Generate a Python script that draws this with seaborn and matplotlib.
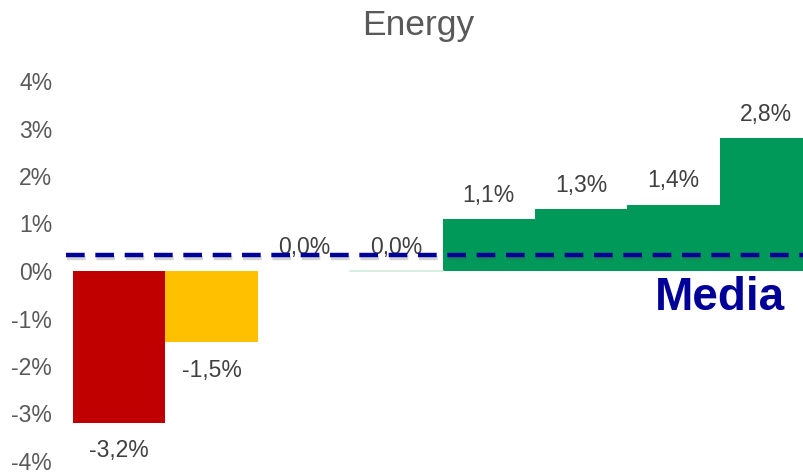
import numpy as np
import pandas as pd
import seaborn as sns
import matplotlib.pyplot as plt
import matplotlib.patheffects as pe

# data
categories = ["A", "B", "C", "D", "E", "F", "G", "H"]
values = [-3.2, -1.5, 0.0, 0.0, 1.1, 1.3, 1.4, 2.8]
bar_colors = ["#C00000", "#FFC000", "#FFFFFF", "#CFEADC",
              "#00995A", "#00995A", "#00995A", "#00995A"]
media = 0.34
y_ticks = [-4, -3, -2, -1, 0, 1, 2, 3, 4]

df = pd.DataFrame({"cat": categories, "val": values})

sns.set_theme(style="white")
plt.rcParams['font.family'] = ['Liberation Sans', 'DejaVu Sans']

fig = plt.figure(figsize=(8.04, 4.72), dpi=100)
# plot area runs past the right edge of the picture, last bar is cut
ax = fig.add_axes([73 / 804, 11 / 472, 731 / 804, 380 / 472])

sns.barplot(data=df, x="cat", y="val", hue="cat", palette=bar_colors,
            width=1.0, legend=False, saturation=1, ax=ax, linewidth=0)

# the second zero bar shows as a thin pale line
ax.plot([2.5, 3.5], [0, 0], color="#CFEADC", lw=1.2, zorder=3)

ax.set_xlim(-0.5, -0.5 + 731 / 92.4)
ax.set_ylim(-4, 4)
ax.set_yticks(y_ticks)
ax.set_yticklabels([f"{t}%" for t in y_ticks], fontsize=16.5, color="#595959")
ax.tick_params(axis="y", length=0, pad=15)
ax.set_xticks([])
ax.set_xlabel("")
ax.set_ylabel("")
sns.despine(ax=ax, left=True, bottom=True, top=True, right=True)

# value labels
for i, v in enumerate(values):
    txt = f"{v:.1f}%".replace(".", ",")
    off = 17 if v >= 0 else -20
    ax.annotate(txt, (i, v), xytext=(0, off), textcoords="offset points",
                ha="center", va="center", fontsize=16.5, color="#404040",
                zorder=5)

# average line with shadow
ax.plot([-0.58, 8], [media, media], color="#000099", lw=3.2,
        linestyle=(0, (4.2, 2.4)), zorder=6, clip_on=False,
        path_effects=[pe.SimpleLineShadow(offset=(1, -2.5), alpha=0.25,
                                          shadow_color="#555555"),
                      pe.Normal()])

fig.text(785 / 804, 1 - 310 / 472, "Media", ha="right", va="baseline",
         fontsize=33, fontweight="bold", color="#000099")

fig.text(418 / 804, 1 - 26 / 472, "Energy", ha="center", va="center",
         fontsize=25.5, color="#595959")

fig.savefig("out.png", dpi=100)
